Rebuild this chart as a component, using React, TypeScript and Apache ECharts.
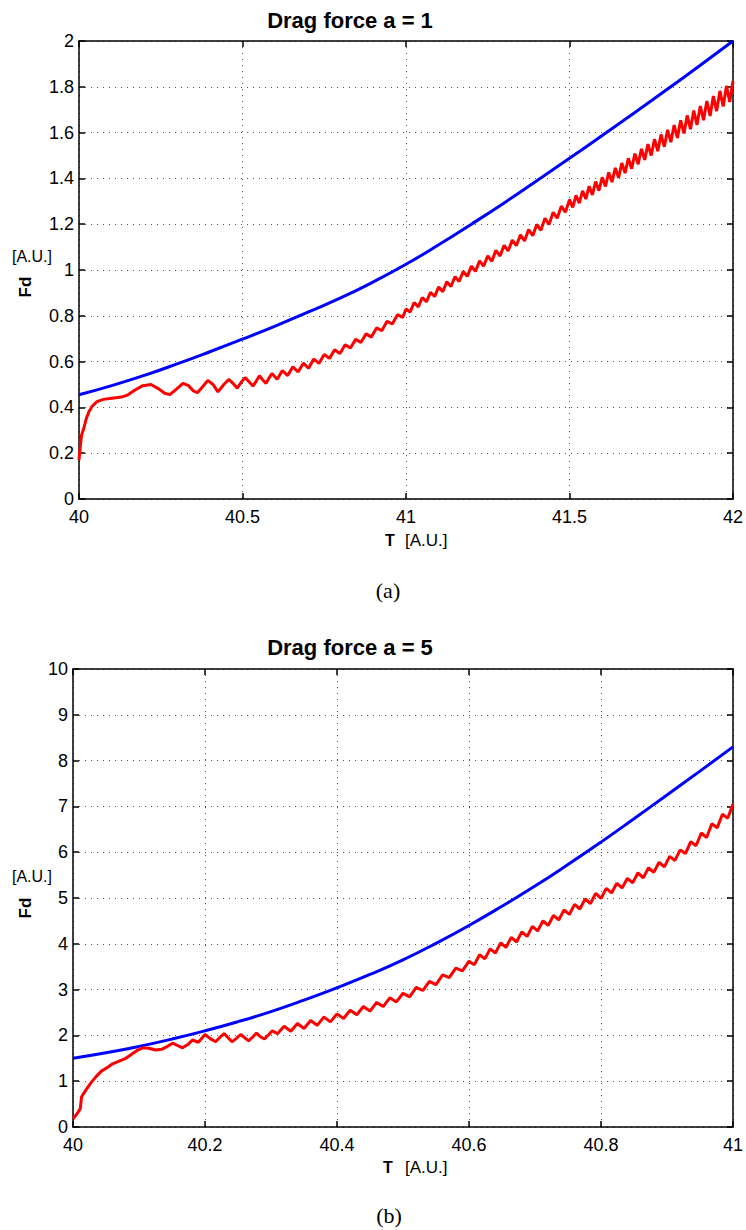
import React, { useEffect, useRef } from "react";
import * as echarts from "echarts";

// ---- tick values ----
const tTicksA = [40, 40.5, 41, 41.5, 42];
const fTicksA = [0, 0.2, 0.4, 0.6, 0.8, 1, 1.2, 1.4, 1.6, 1.8, 2];
const tTicksB = [40, 40.2, 40.4, 40.6, 40.8, 41];
const fTicksB = [0, 1, 2, 3, 4, 5, 6, 7, 8, 9, 10];

// ---- (a) a = 1 ----
const blueA: [number, number][] = [
  [40.0, 0.455], [40.1, 0.495], [40.2, 0.54], [40.3, 0.59], [40.4, 0.643], [40.5, 0.698],
  [40.6, 0.755], [40.7, 0.816], [40.8, 0.878], [40.9, 0.948], [41.0, 1.025], [41.1, 1.11],
  [41.2, 1.2], [41.3, 1.293], [41.4, 1.39], [41.5, 1.488], [41.6, 1.587], [41.7, 1.688],
  [41.8, 1.79], [41.9, 1.894], [42.0, 2.0],
];

const redA: [number, number][] = [
  [40.0, 0.17], [40.004, 0.23], [40.008, 0.28], [40.015, 0.31], [40.022, 0.35], [40.03, 0.38],
  [40.04, 0.405], [40.055, 0.425], [40.075, 0.435], [40.1, 0.44], [40.13, 0.445], [40.15, 0.455],
  [40.17, 0.475], [40.195, 0.495], [40.22, 0.5], [40.245, 0.48], [40.262, 0.462], [40.278, 0.456],
  [40.298, 0.48], [40.318, 0.505], [40.335, 0.495], [40.35, 0.472], [40.362, 0.464], [40.378, 0.49],
  [40.394, 0.518], [40.41, 0.5], [40.425, 0.468], [40.443, 0.5], [40.458, 0.522], [40.471, 0.505],
  [40.484, 0.484], [40.496, 0.51], [40.508, 0.53], [40.52, 0.512], [40.532, 0.493], [40.542, 0.515],
  [40.552, 0.538], [40.562, 0.52], [40.572, 0.505], [40.581, 0.528], [40.59, 0.548],
  [40.606, 0.523], [40.622, 0.561], [40.638, 0.539], [40.654, 0.577], [40.67, 0.555], [40.686, 0.593],
  [40.702, 0.571], [40.718, 0.611], [40.734, 0.593], [40.75, 0.631], [40.766, 0.614], [40.782, 0.652],
  [40.798, 0.635], [40.814, 0.674], [40.83, 0.659], [40.846, 0.697], [40.862, 0.683], [40.878, 0.721],
  [40.894, 0.707], [40.91, 0.747], [40.926, 0.735], [40.942, 0.776], [40.958, 0.764], [40.974, 0.805],
  [40.99, 0.793], [41.0, 0.83],
  [41.0125, 0.816], [41.025, 0.858], [41.0375, 0.839], [41.05, 0.88], [41.0625, 0.861], [41.075, 0.903],
  [41.0875, 0.884], [41.1, 0.926], [41.1125, 0.905], [41.125, 0.949], [41.1375, 0.928], [41.15, 0.971],
  [41.1625, 0.95], [41.175, 0.994], [41.1875, 0.972], [41.2, 1.017], [41.2125, 0.994], [41.225, 1.04],
  [41.2375, 1.017], [41.25, 1.062], [41.2625, 1.038], [41.275, 1.086], [41.2875, 1.061], [41.3, 1.108],
  [41.3125, 1.083], [41.325, 1.131], [41.3375, 1.106], [41.35, 1.154], [41.3625, 1.127], [41.375, 1.177],
  [41.3875, 1.15], [41.4, 1.199], [41.4125, 1.173], [41.425, 1.226], [41.4375, 1.199], [41.45, 1.252],
  [41.4625, 1.226], [41.475, 1.279], [41.4875, 1.252],
  [41.5, 1.307], [41.51, 1.273], [41.52, 1.326], [41.53, 1.292], [41.54, 1.346], [41.55, 1.31],
  [41.56, 1.366], [41.57, 1.328], [41.58, 1.386], [41.59, 1.346], [41.6, 1.405], [41.61, 1.365],
  [41.62, 1.426], [41.63, 1.384], [41.64, 1.446], [41.65, 1.403], [41.66, 1.467], [41.67, 1.423],
  [41.68, 1.488], [41.69, 1.442], [41.7, 1.508], [41.71, 1.462], [41.72, 1.529], [41.73, 1.481],
  [41.74, 1.55], [41.75, 1.5], [41.76, 1.571], [41.77, 1.519], [41.78, 1.592], [41.79, 1.538],
  [41.8, 1.612], [41.81, 1.558], [41.82, 1.633], [41.83, 1.577], [41.84, 1.654], [41.85, 1.596],
  [41.86, 1.675], [41.87, 1.615], [41.88, 1.696], [41.89, 1.634], [41.9, 1.716], [41.91, 1.654],
  [41.92, 1.738], [41.93, 1.673], [41.94, 1.76], [41.95, 1.694], [41.96, 1.782], [41.97, 1.714],
  [41.98, 1.804], [41.99, 1.734], [42.0, 1.825],
];

// ---- (b) a = 5 ----
const blueB: [number, number][] = [
  [40.0, 1.5], [40.05, 1.62], [40.1, 1.76], [40.15, 1.92], [40.2, 2.1], [40.25, 2.3], [40.3, 2.52],
  [40.35, 2.77], [40.4, 3.04], [40.45, 3.33], [40.5, 3.65], [40.55, 4.01], [40.6, 4.4], [40.65, 4.82],
  [40.7, 5.26], [40.75, 5.73], [40.8, 6.22], [40.85, 6.73], [40.9, 7.25], [40.95, 7.77], [41.0, 8.3],
];

const redB: [number, number][] = [
  [40.0, 0.18], [40.004, 0.25], [40.008, 0.33], [40.011, 0.4], [40.013, 0.66], [40.017, 0.75],
  [40.022, 0.86], [40.028, 0.98], [40.035, 1.1], [40.043, 1.22], [40.052, 1.3], [40.06, 1.38],
  [40.07, 1.44], [40.08, 1.5], [40.09, 1.6], [40.098, 1.68], [40.106, 1.73], [40.115, 1.72],
  [40.125, 1.68], [40.135, 1.7], [40.143, 1.76], [40.151, 1.83], [40.158, 1.78], [40.166, 1.73],
  [40.174, 1.8], [40.181, 1.9], [40.19, 1.85], [40.2, 2.02], [40.208, 1.93], [40.216, 1.86],
  [40.222, 1.95], [40.229, 2.04], [40.235, 1.95], [40.241, 1.86], [40.248, 1.94], [40.254, 2.02],
  [40.26, 1.95], [40.266, 1.88], [40.272, 1.96], [40.278, 2.05], [40.284, 1.97], [40.29, 1.92],
  [40.296, 2.01], [40.302, 2.1],
  [40.31, 2.04], [40.32, 2.2], [40.33, 2.09], [40.34, 2.26], [40.35, 2.15], [40.36, 2.325],
  [40.37, 2.22], [40.38, 2.4], [40.39, 2.295], [40.4, 2.47], [40.41, 2.37], [40.42, 2.55],
  [40.43, 2.45], [40.44, 2.63], [40.45, 2.53], [40.46, 2.72], [40.47, 2.63], [40.48, 2.82],
  [40.49, 2.73], [40.5, 2.92], [40.51, 2.84], [40.52, 3.05], [40.53, 2.98], [40.54, 3.18],
  [40.55, 3.11], [40.56, 3.32], [40.57, 3.26], [40.58, 3.47], [40.59, 3.41], [40.6, 3.62],
  [40.608, 3.54], [40.616, 3.76], [40.624, 3.67], [40.632, 3.89], [40.64, 3.8], [40.648, 4.02],
  [40.656, 3.92], [40.664, 4.14], [40.672, 4.04], [40.68, 4.26], [40.688, 4.16], [40.696, 4.38],
  [40.704, 4.28], [40.712, 4.5], [40.72, 4.4], [40.728, 4.62], [40.736, 4.52], [40.744, 4.74],
  [40.752, 4.64], [40.76, 4.86], [40.768, 4.76], [40.776, 4.98], [40.784, 4.88], [40.792, 5.1],
  [40.8, 4.99], [40.808, 5.21], [40.816, 5.11], [40.824, 5.32], [40.832, 5.22], [40.84, 5.43],
  [40.848, 5.33], [40.856, 5.55], [40.864, 5.44], [40.872, 5.66], [40.88, 5.56], [40.888, 5.78],
  [40.896, 5.68], [40.904, 5.91], [40.912, 5.82], [40.92, 6.05], [40.928, 5.97], [40.936, 6.23],
  [40.944, 6.14], [40.952, 6.42], [40.96, 6.32], [40.968, 6.62], [40.976, 6.53], [40.984, 6.83],
  [40.992, 6.74], [41.0, 7.05],
];

const SANS = "'Liberation Sans', Arial, Helvetica, sans-serif";
const SERIF = "'Liberation Serif', 'Times New Roman', serif";

function nearestLabel(v: number, ticks: number[]) {
  let best = ticks[0];
  for (const t of ticks) if (Math.abs(t - v) < Math.abs(best - v)) best = t;
  return String(best);
}

function mkAxis(grid: number, position: string, ticks: number[], main: boolean) {
  const interval = ticks[1] - ticks[0];
  return {
    type: "value",
    gridIndex: grid,
    position,
    min: ticks[0],
    max: ticks[ticks.length - 1],
    interval,
    axisLine: { show: true, onZero: false, lineStyle: { color: "#000", width: 1.5 } },
    axisTick: { show: true, inside: true, length: 6, lineStyle: { color: "#000", width: 1.5 } },
    axisLabel: {
      show: main,
      color: "#000",
      fontSize: 18,
      fontFamily: SANS,
      margin: position === "left" ? 5 : 9,
      formatter: (v: number) => nearestLabel(v, ticks),
    },
    splitLine: { show: main, lineStyle: { color: "#555", type: [1, 5], width: 1 } },
  };
}

function txt(text: string, x: number, y: number, font: string, align = "center", rotation = 0) {
  return {
    type: "text",
    x,
    y,
    rotation,
    silent: true,
    style: { text, font, fill: "#000", align, verticalAlign: "middle" },
  };
}

export default function App() {
  const ref = useRef<HTMLDivElement>(null);
  useEffect(() => {
    document.body.style.margin = "0";
    if (!ref.current) return;
    const chart = echarts.init(ref.current, null, { renderer: "svg" });
    const line = (xi: number, data: [number, number][], color: string, smooth: boolean) => ({
      type: "line",
      xAxisIndex: xi,
      yAxisIndex: xi,
      data,
      smooth,
      symbol: "none",
      showSymbol: false,
      silent: true,
      lineStyle: { color, width: 3 },
    });
    chart.setOption({
      animation: false,
      backgroundColor: "#fff",
      grid: [
        { left: 79, top: 41, width: 656, height: 458 },
        { left: 73, top: 669, width: 662, height: 458 },
      ],
      xAxis: [
        mkAxis(0, "bottom", tTicksA, true),
        mkAxis(0, "top", tTicksA, false),
        mkAxis(1, "bottom", tTicksB, true),
        mkAxis(1, "top", tTicksB, false),
      ],
      yAxis: [
        mkAxis(0, "left", fTicksA, true),
        mkAxis(0, "right", fTicksA, false),
        mkAxis(1, "left", fTicksB, true),
        mkAxis(1, "right", fTicksB, false),
      ],
      series: [
        line(0, blueA, "#0000ff", true),
        line(0, redA, "#ff0000", false),
        line(2, blueB, "#0000ff", true),
        line(2, redB, "#ff0000", false),
      ],
      graphic: [
        txt("Drag force a = 1", 350, 20, `bold 22px ${SANS}`),
        txt("[A.U.]", 32, 256, `16px ${SANS}`),
        txt("Fd", 25, 287, `bold 17px ${SANS}`, "center", Math.PI / 2),
        txt("T", 390, 540, `bold 16px ${SANS}`),
        txt("[A.U.]", 405, 540, `17px ${SANS}`, "left"),
        txt("(a)", 388, 590, `22px ${SERIF}`),
        txt("Drag force a = 5", 350, 647, `bold 22px ${SANS}`),
        txt("[A.U.]", 32, 876, `16px ${SANS}`),
        txt("Fd", 25, 908, `bold 17px ${SANS}`, "center", Math.PI / 2),
        txt("T", 388, 1167, `bold 16px ${SANS}`),
        txt("[A.U.]", 405, 1167, `17px ${SANS}`, "left"),
        txt("(b)", 389, 1215, `22px ${SERIF}`),
      ],
    });
    return () => chart.dispose();
  }, []);
  return <div ref={ref} style={{ width: 746, height: 1230 }} />;
}
